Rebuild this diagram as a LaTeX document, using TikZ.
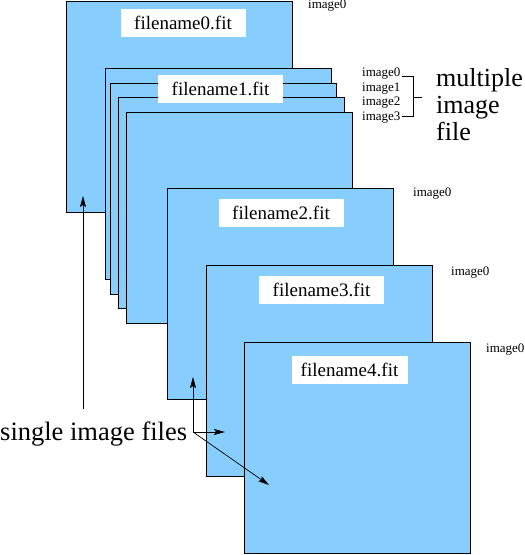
\documentclass[tikz,border=0pt]{standalone}
\usepackage{fontspec}
\setmainfont{Liberation Serif}
\newfontfamily\figfont{Liberation Serif}
\usetikzlibrary{arrows.meta}
\definecolor{sheetblue}{HTML}{87CEFF}

\begin{document}
\begin{tikzpicture}[x=1pt, y=-1pt, font=\figfont,
    sheet/.style={draw, line width=1pt, fill=sheetblue, minimum width=226pt, minimum height=211pt, inner sep=0pt, anchor=north west},
    fname/.style={fill=white, minimum width=125pt, minimum height=28pt, inner sep=0pt, font=\figfont\fontsize{19}{19}\selectfont},
    hdu/.style={anchor=west, inner sep=0pt, font=\figfont\fontsize{13}{13}\selectfont},
    pointer/.style={line width=0.7pt, -{Stealth[length=11pt, width=6pt, inset=2pt]}}]
    \useasboundingbox (0,0) rectangle (525,555);

    \node[sheet] (file0) at (66,1) {};
    \node[fname] (name0) at ([shift={(117,22)}]file0.north west) {filename0.fit};
    \node[hdu] (img0) at (308,6) {image0};

    \node[sheet] (file1a) at (105,68) {};
    \node[sheet] (file1b) at (110,83) {};
    \node[sheet] (file1c) at (118,97) {};
    \node[sheet] (file1d) at (126,112) {};
    \node[fname] (name1) at ([shift={(115.5,21)}]file1a.north west) {filename1.fit};
    \node[hdu] (img1a) at (362,74) {image0};
    \node[hdu] (img1b) at (362,89) {image1};
    \node[hdu] (img1c) at (362,103) {image2};
    \node[hdu] (img1d) at (362,118) {image3};
    \draw[line width=0.7pt] (402,76) -- (413,76) -- (413,116) -- (402,116)
        (413,97) -- (422,97);
    \node[anchor=north west, align=left, inner sep=0pt, font=\figfont\fontsize{26}{27}\selectfont] (multi) at (436,68) {multiple\\image\\file};

    \node[sheet] (file2) at (167,188) {};
    \node[fname] (name2) at ([shift={(114,24.5)}]file2.north west) {filename2.fit};
    \node[hdu] (img2) at (413,194) {image0};

    \node[sheet] (file3) at (206,265) {};
    \node[fname] (name3) at ([shift={(115.5,24.5)}]file3.north west) {filename3.fit};
    \node[hdu] (img3) at (451,273) {image0};

    \node[sheet] (file4) at (244,342) {};
    \node[fname, minimum width=116pt] (name4) at ([shift={(105.5,27.5)}]file4.north west) {filename4.fit};
    \node[hdu] (img4) at (486,350) {image0};

    \node[anchor=base west, inner sep=0pt, font=\figfont\fontsize{26.5}{26.5}\selectfont] (single) at (0,440) {single image files};
    \coordinate (hub) at (193,432);
    \coordinate (tip0) at (83,196);
    \coordinate (tip2) at (193,377);
    \coordinate (tip3) at (225,432);
    \coordinate (tip4) at (269,485);
    \draw[pointer, shorten <=12pt] (tip0 |- single.north) -- (tip0);
    \draw[pointer] (hub) -- (tip2);
    \draw[pointer] (hub) -- (tip3);
    \draw[pointer] (hub) -- (tip4);
\end{tikzpicture}
\end{document}
